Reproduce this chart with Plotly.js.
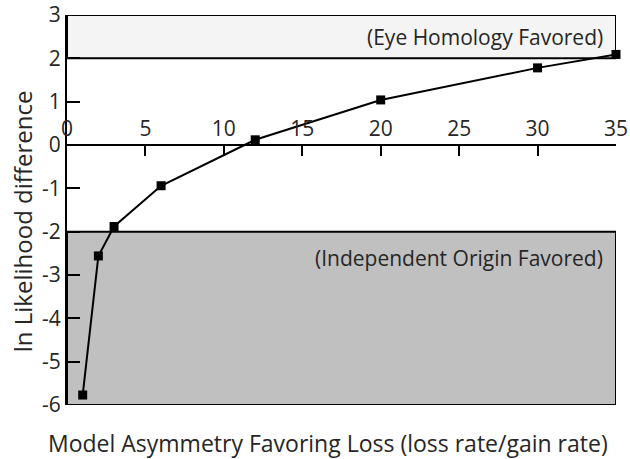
<!DOCTYPE html>
<html><head><meta charset="utf-8">
<script src="https://cdn.plot.ly/plotly-3.0.1.min.js"></script>
<style>html,body{margin:0;padding:0;background:#fff;}#chart{width:630px;height:459px;}</style>
</head><body><div id="chart"></div>
<script>
const asymmetry = [1, 2, 3, 6, 12, 20, 30, 35];
const lnLikelihoodDiff = [-5.77, -2.56, -1.88, -0.94, 0.12, 1.04, 1.78, 2.09];
const xTicks = [0, 5, 10, 15, 20, 25, 30, 35];
const yTicks = [-6, -5, -4, -3, -2, -1, 0, 1, 2, 3];
const eyeBand = [2, 3];
const independentBand = [-6, -2];
const xTitle = "Model Asymmetry Favoring Loss (loss rate/gain rate)";
const yTitle = "ln Likelihood difference";
const eyeLabel = "(Eye Homology Favored)";
const indepLabel = "(Independent Origin Favored)";

const FONT = "Open Sans, Noto Sans, sans-serif";
const TXT = "#262626";
const trace = {
  x: asymmetry, y: lnLikelihoodDiff, type: "scatter", mode: "lines+markers",
  line: {color: "#000", width: 2},
  marker: {symbol: "square", size: 9, color: "#000"},
  showlegend: false, cliponaxis: false
};
const layout = {
  width: 630, height: 459,
  margin: {l: 67, r: 14, t: 15, b: 54},
  paper_bgcolor: "#fff", plot_bgcolor: "rgba(0,0,0,0)",
  font: {family: FONT, color: TXT, size: 21},
  xaxis: {
    range: [0, 35], tickvals: xTicks, ticktext: xTicks.map(String),
    anchor: "free", position: 2/3, side: "top",
    showline: true, linecolor: "#000", linewidth: 2,
    ticks: "inside", ticklen: 10, tickwidth: 2, tickcolor: "#000",
    showgrid: false, zeroline: false, fixedrange: true,
    tickfont: {family: FONT, size: 21, color: TXT}
  },
  yaxis: {
    range: [-6, 3], tickvals: yTicks, ticktext: yTicks.map(String),
    showline: true, linecolor: "#000", linewidth: 2,
    ticks: "inside", ticklen: 13, tickwidth: 2, tickcolor: "#000",
    showgrid: false, zeroline: false, fixedrange: true,
    tickfont: {family: FONT, size: 21, color: TXT}
  },
  shapes: [
    {type: "rect", xref: "x", yref: "y", x0: 0, x1: 35, y0: eyeBand[0], y1: eyeBand[1],
     fillcolor: "#f4f4f4", line: {color: "#000", width: 2}, layer: "below"},
    {type: "rect", xref: "x", yref: "y", x0: 0, x1: 35, y0: independentBand[0], y1: independentBand[1],
     fillcolor: "#c0c0c0", line: {color: "#000", width: 2}, layer: "below"}
  ],
  annotations: [
    {text: eyeLabel, xref: "x", yref: "y", x: 34.3, y: 2.5, xanchor: "right", yanchor: "middle",
     showarrow: false, font: {family: FONT, size: 21, color: TXT}},
    {text: indepLabel, xref: "x", yref: "y", x: 34.3, y: -2.6, xanchor: "right", yanchor: "middle",
     showarrow: false, font: {family: FONT, size: 21, color: TXT}},
    {text: xTitle, xref: "paper", yref: "paper", x: 0.475, y: -0.098, xanchor: "center", yanchor: "middle",
     showarrow: false, borderpad: 0, font: {family: FONT, size: 23, color: TXT}},
    {text: yTitle, xref: "paper", yref: "paper", x: -0.081, y: 0.47, xanchor: "center", yanchor: "middle",
     textangle: -90, showarrow: false, font: {family: FONT, size: 24, color: TXT}}
  ]
};
Plotly.newPlot("chart", [trace], layout, {displayModeBar: false, staticPlot: true});
</script></body></html>
